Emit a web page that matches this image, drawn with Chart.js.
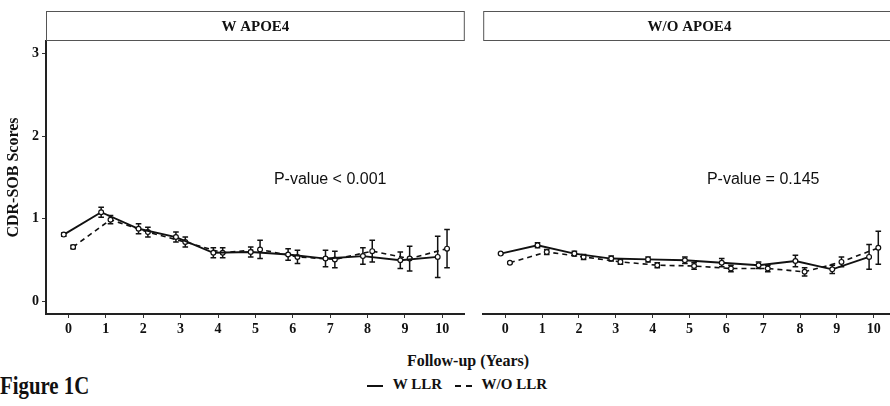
<!DOCTYPE html>
<html>
<head>
<meta charset="utf-8">
<script src="https://cdn.jsdelivr.net/npm/chart.js@4.4.1/dist/chart.umd.min.js"></script>
<style>
  html, body { margin: 0; padding: 0; background: #fff; overflow: hidden; }
  #wrap { position: relative; width: 890px; height: 406px; overflow: hidden; }
  canvas { position: absolute; top: 0; }
  .serif { font-family: "Liberation Serif", "DejaVu Serif", serif; font-weight: bold; color: #111; position: absolute; white-space: nowrap; }
</style>
</head>
<body>
<div id="wrap">
  <canvas id="left" width="470" height="340" style="left:0"></canvas>
  <canvas id="right" width="423" height="340" style="left:478px"></canvas>
  <div class="serif" style="left:368px; top:352px; width:200px; text-align:center; font-size:16px;">Follow-up (Years)</div>
  <div class="serif" style="left:0; top:371px; font-size:26px; transform:scaleX(0.8); transform-origin:left top;">Figure 1C</div>
  <div class="serif" style="left:367px; top:376px; font-size:15px;">
    <span style="display:inline-block; width:16px; border-top:2px solid #111; vertical-align:middle;"></span>
    <span style="margin-left:6px">W LLR</span>
    <span style="display:inline-block; width:17px; border-top:2px dashed #111; vertical-align:middle; margin-left:9px;"></span>
    <span style="margin-left:6px">W/O LLR</span>
  </div>
</div>
<script>
const years = [0, 1, 2, 3, 4, 5, 6, 7, 8, 9, 10];
const yTicks = [0, 1, 2, 3];
const panelTitles = ['W APOE4', 'W/O APOE4'];
const pLabels = ['P-value < 0.001', 'P-value = 0.145'];
const seriesNames = ['W LLR', 'W/O LLR'];

// W APOE4 panel: means and error half-widths
const apoeWithLLR = [0.81, 1.08, 0.88, 0.78, 0.59, 0.60, 0.57, 0.52, 0.55, 0.50, 0.54];
const apoeWithLLRErr = [0.02, 0.06, 0.06, 0.06, 0.06, 0.06, 0.07, 0.10, 0.10, 0.10, 0.25];
const apoeWithoutLLR = [0.66, 0.99, 0.84, 0.72, 0.59, 0.63, 0.54, 0.51, 0.61, 0.52, 0.64];
const apoeWithoutLLRErr = [0.02, 0.05, 0.06, 0.06, 0.06, 0.11, 0.08, 0.10, 0.13, 0.15, 0.23];

// W/O APOE4 panel
const noApoeWithLLR = [0.58, 0.68, 0.58, 0.52, 0.51, 0.50, 0.47, 0.44, 0.49, 0.39, 0.54];
const noApoeWithLLRErr = [0.01, 0.03, 0.03, 0.03, 0.03, 0.04, 0.05, 0.04, 0.07, 0.05, 0.15];
const noApoeWithoutLLR = [0.47, 0.60, 0.54, 0.48, 0.44, 0.43, 0.40, 0.40, 0.36, 0.48, 0.65];
const noApoeWithoutLLRErr = [0.01, 0.03, 0.03, 0.03, 0.03, 0.04, 0.04, 0.04, 0.05, 0.06, 0.20];

const dodge = 0.125;
const serif = 'Liberation Serif';
const ink = '#111';

function series(label, vals, errs, shift, dashed) {
  return {
    label: label,
    data: years.map((yr, i) => ({ x: yr + shift, y: vals[i] })),
    errors: errs,
    borderColor: ink,
    borderWidth: dashed ? 1.6 : 1.9,
    borderDash: dashed ? [5, 4] : [],
    pointRadius: 2.4,
    pointBorderWidth: 1.2,
    pointBackgroundColor: '#fff',
    pointBorderColor: ink,
    tension: 0,
  };
}

const errorBars = {
  id: 'errorBars',
  beforeDatasetsDraw(chart) {
    const ctx = chart.ctx, ys = chart.scales.y, xs = chart.scales.x;
    ctx.save();
    ctx.strokeStyle = ink;
    ctx.lineWidth = 1.5;
    chart.data.datasets.forEach(ds => {
      ds.data.forEach((p, i) => {
        const px = xs.getPixelForValue(p.x);
        const top = ys.getPixelForValue(p.y + ds.errors[i]);
        const bot = ys.getPixelForValue(p.y - ds.errors[i]);
        ctx.beginPath();
        ctx.moveTo(px, top); ctx.lineTo(px, bot);
        ctx.moveTo(px - 2.8, top); ctx.lineTo(px + 2.8, top);
        ctx.moveTo(px - 2.8, bot); ctx.lineTo(px + 2.8, bot);
        ctx.stroke();
      });
    });
    ctx.restore();
  }
};

const stripAndNote = {
  id: 'stripAndNote',
  afterDraw(chart, args, opts) {
    const ctx = chart.ctx, a = chart.chartArea;
    ctx.save();
    ctx.strokeStyle = '#555';
    ctx.lineWidth = 1;
    ctx.strokeRect(a.left + 0.5, 11.5, (a.right - a.left) - 1, 29);
    ctx.fillStyle = ink;
    ctx.font = 'bold 15px "' + serif + '"';
    ctx.textAlign = 'center';
    ctx.textBaseline = 'middle';
    ctx.fillText(opts.title, (a.left + a.right) / 2, 27);
    ctx.font = '16px "Liberation Sans", Arial, sans-serif';
    ctx.fillText(opts.note, chart.scales.x.getPixelForValue(7), chart.scales.y.getPixelForValue(1.47));
    ctx.restore();
  }
};

function makeChart(id, title, note, a, aErr, b, bErr, showY) {
  const tickFont = { family: serif, weight: 'bold', size: 14 };
  new Chart(document.getElementById(id), {
    type: 'line',
    data: {
      datasets: [
        series(seriesNames[0], a, aErr, -dodge, false),
        series(seriesNames[1], b, bErr, dodge, true),
      ]
    },
    options: {
      responsive: false,
      animation: false,
      devicePixelRatio: 1,
      layout: { padding: { top: 41, right: showY ? 1 : 0, left: 0, bottom: 0 } },
      plugins: {
        legend: { display: false },
        tooltip: { enabled: false },
        stripAndNote: { title: title, note: note },
      },
      scales: {
        x: {
          type: 'linear',
          min: -0.6,
          max: 10.6,
          afterBuildTicks: s => { s.ticks = years.map(v => ({ value: v })); },
          afterFit: s => { s.height = 26; },
          ticks: { font: tickFont, color: ink, autoSkip: false, maxRotation: 0, padding: 3 },
          grid: { drawOnChartArea: false, drawTicks: true, tickLength: 4, color: '#333', lineWidth: 1 },
          border: { display: true, color: '#222', width: 2 },
        },
        y: {
          display: showY,
          min: -0.15,
          max: 3.15,
          afterBuildTicks: s => { s.ticks = yTicks.map(v => ({ value: v })); },
          afterFit: s => { s.width = showY ? 46 : 0; },
          ticks: { font: tickFont, color: ink, padding: 3 },
          grid: { drawOnChartArea: false, drawTicks: true, tickLength: 4, color: '#333', lineWidth: 1 },
          border: { display: true, color: '#222', width: 2 },
          title: { display: true, text: 'CDR-SOB Scores', color: ink, padding: { top: 4, bottom: 0 },
                   font: { family: serif, weight: 'bold', size: 16 } },
        }
      }
    },
    plugins: [errorBars, stripAndNote]
  });
}

makeChart('left', panelTitles[0], pLabels[0], apoeWithLLR, apoeWithLLRErr, apoeWithoutLLR, apoeWithoutLLRErr, true);
makeChart('right', panelTitles[1], pLabels[1], noApoeWithLLR, noApoeWithLLRErr, noApoeWithoutLLR, noApoeWithoutLLRErr, false);
</script>
</body>
</html>
